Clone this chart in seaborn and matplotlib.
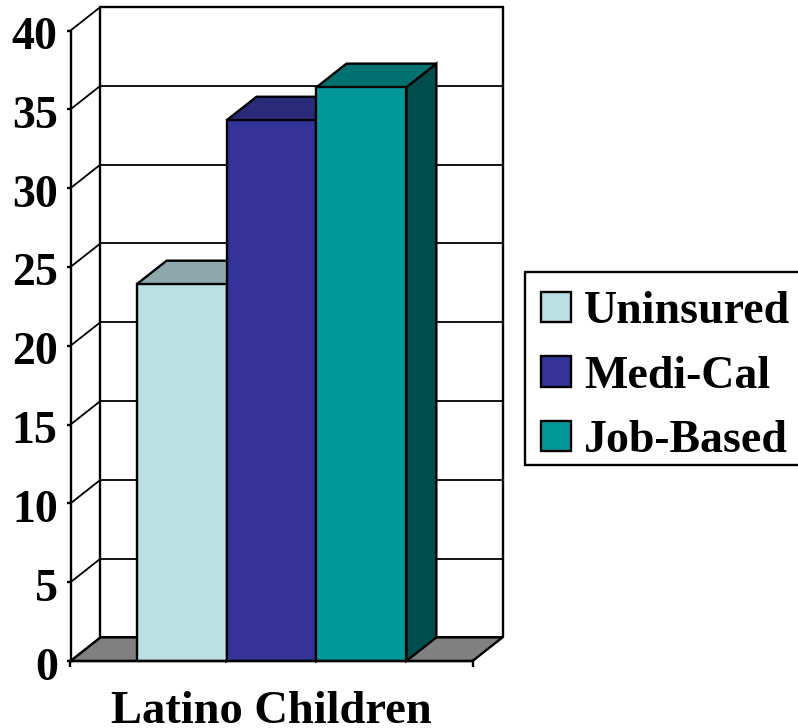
import matplotlib
matplotlib.use("Agg")
import matplotlib.pyplot as plt
from matplotlib.patches import Polygon, Rectangle
from matplotlib.transforms import ScaledTranslation
import pandas as pd
import seaborn as sns

group = ["Latino Children"]
plans = ["Uninsured", "Medi-Cal", "Job-Based"]
values = [23.9, 34.3, 36.4]
front_colors = ["#BBE0E3", "#333399", "#009999"]
top_colors = ["#8CA8AA", "#2A2A7A", "#007070"]
side_colors = ["#8CA8AA", "#222266", "#004D4D"]
y_ticks = [0, 5, 10, 15, 20, 25, 30, 35, 40]

W, H = 798, 728
AX_L, AX_R, AX_B, AX_T = 70.5, 472.5, 661.0, 30.5
DEPTH_PX_X, DEPTH_PX_Y = 30.0, 23.6

sns.set_theme(style="white")
plt.rcParams["font.family"] = ["Liberation Serif", "DejaVu Serif"]
plt.rcParams["font.weight"] = "bold"

fig = plt.figure(figsize=(W / 100, H / 100), dpi=100)
ax = fig.add_axes([AX_L / W, 1 - AX_B / H, (AX_R - AX_L) / W, (AX_B - AX_T) / H])

df = pd.DataFrame({"group": group * len(plans), "plan": plans, "value": values})
LW = 1.7
sns.barplot(data=df, x="group", y="value", hue="plan", hue_order=plans,
            palette=front_colors, saturation=1, width=0.671, gap=0, dodge=True,
            edgecolor="black", linewidth=LW, ax=ax, zorder=1)

ax.set_xlim(-0.5, 0.5)
ax.set_ylim(0, 40)
dx = DEPTH_PX_X / (AX_R - AX_L)
dy = DEPTH_PX_Y * 40 / (AX_B - AX_T)

# floor
ax.add_patch(Polygon([(-0.5, 0), (0.5, 0), (0.5 + dx, dy), (-0.5 + dx, dy)],
                     closed=True, facecolor="#808080", edgecolor="black",
                     linewidth=LW, clip_on=False, zorder=0.3))
# back wall and depth lines
for t in y_ticks:
    ax.plot([-0.5 + dx, 0.5 + dx], [t + dy, t + dy], color="black",
            lw=LW if t == 40 else 1.3, clip_on=False, zorder=0.5)
    ax.plot([-0.5, -0.5 + dx], [t, t + dy], color="black", lw=1.3,
            clip_on=False, zorder=0.5)
for x in [-0.5 + dx, 0.5 + dx]:
    ax.plot([x, x], [dy, 40 + dy], color="black", lw=LW, clip_on=False, zorder=0.5)

# bar tops and sides
for bar, tc, sc in zip(ax.patches[:len(plans)], top_colors, side_colors):
    x0, x1, h = bar.get_x(), bar.get_x() + bar.get_width(), bar.get_height()
    ax.add_patch(Polygon([(x1, 0), (x1 + dx, dy), (x1 + dx, h + dy), (x1, h)],
                         closed=True, facecolor=sc, edgecolor="black",
                         linewidth=LW, clip_on=False, zorder=0.9))
    ax.add_patch(Polygon([(x0, h), (x1, h), (x1 + dx, h + dy), (x0 + dx, h + dy)],
                         closed=True, facecolor=tc, edgecolor="black",
                         linewidth=LW, clip_on=False, zorder=0.9))

sns.despine(ax=ax, top=True, right=True)
for s in ["left", "bottom"]:
    ax.spines[s].set_color("black")
    ax.spines[s].set_linewidth(LW)

ax.set_xlabel("")
ax.set_ylabel("")
ax.set_yticks(y_ticks)
ax.tick_params(axis="y", left=True, length=3.2, width=LW, color="black",
               pad=6, labelsize=33, labelcolor="black")
ax.set_xticks([-0.5, 0.5], minor=True)
ax.tick_params(axis="x", which="minor", bottom=True, length=4.3, width=LW, color="black")
ax.tick_params(axis="x", which="major", bottom=False, pad=15.5, labelsize=33.5, labelcolor="black")
shift = ScaledTranslation(0, -2.5 / 100, fig.dpi_scale_trans)
for lab in ax.get_yticklabels():
    lab.set_fontweight("bold")
    lab.set_transform(lab.get_transform() + shift)
for lab in ax.get_xticklabels():
    lab.set_fontweight("bold")

# legend box drawn on the figure, entries placed inside it
fig.add_artist(Rectangle((525 / W, 1 - 465 / H), 280 / W, 193 / H,
                         transform=fig.transFigure, facecolor="white",
                         edgecolor="black", linewidth=LW, zorder=3))
sns.move_legend(ax, loc="lower left",
                bbox_to_anchor=((530 - AX_L) / (AX_R - AX_L), (AX_B - 473) / (AX_B - AX_T)),
                title=None, frameon=False, fontsize=33, borderaxespad=0,
                handlelength=0.655, handleheight=0.655, handletextpad=0.29,
                labelspacing=0.49, borderpad=0.24)
leg = ax.get_legend()
for t in leg.get_texts():
    t.set_fontweight("bold")
    t.set_color("black")
leg.remove()
fig.add_artist(leg)
leg.set_zorder(4)
fig.savefig("out.png", dpi=100, facecolor="white")
